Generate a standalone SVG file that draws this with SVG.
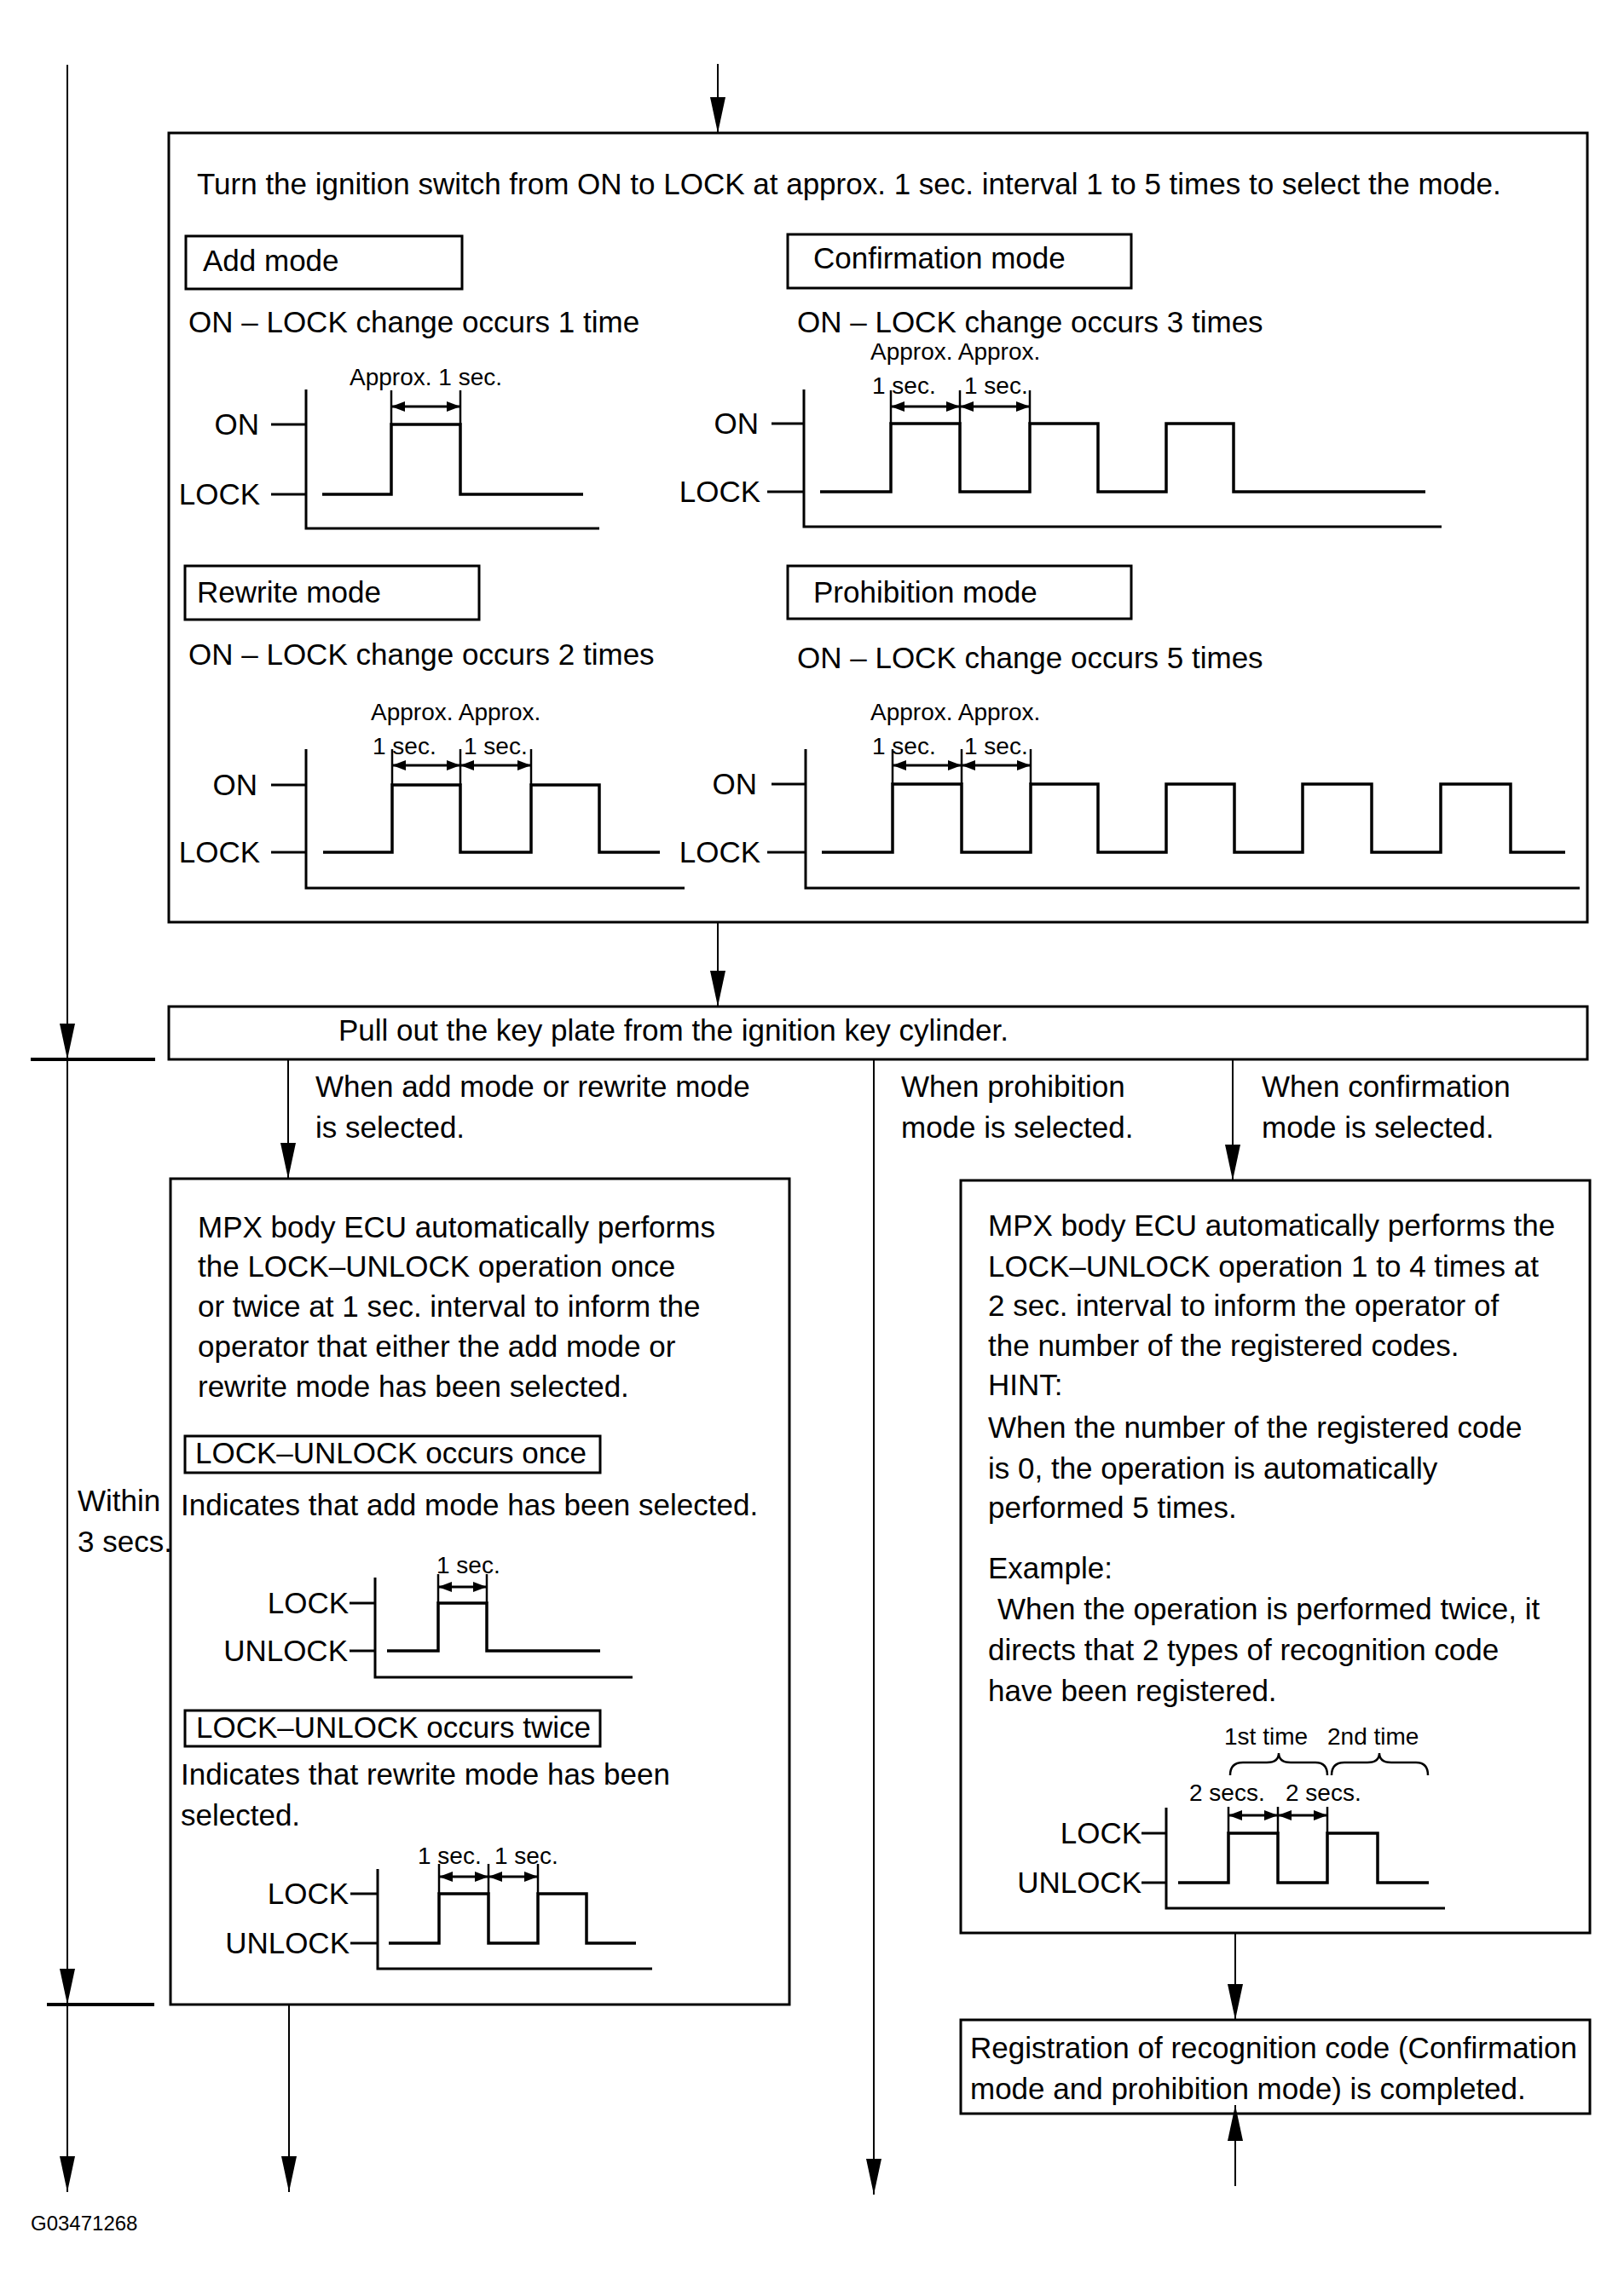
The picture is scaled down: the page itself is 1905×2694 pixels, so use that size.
<svg xmlns="http://www.w3.org/2000/svg" width="1905" height="2694" viewBox="0 0 1905 2694">
<defs>
<style>
text{font-family:"Liberation Sans",Arial,sans-serif;fill:#000}
.t{font-size:35px}
.s{font-size:28px}
.e{text-anchor:end}
.box{fill:none;stroke:#000;stroke-width:3}
.wave{fill:none;stroke:#000;stroke-width:3.5;stroke-linejoin:miter}
.axis{fill:none;stroke:#000;stroke-width:3}
.dimv{stroke:#000;stroke-width:2.5}
.dim{stroke:#000;stroke-width:3;marker-start:url(#dh);marker-end:url(#dh)}
.conn{stroke:#000;stroke-width:2;fill:none}
.tick{stroke:#000;stroke-width:4}
.brace{fill:none;stroke:#000;stroke-width:2.5}
</style>
<marker id="ah" viewBox="0 0 42 18" refX="42" refY="9" markerWidth="42" markerHeight="18" markerUnits="userSpaceOnUse" orient="auto"><path d="M0,0 L42,9 L0,18 z" fill="#000"/></marker>
<marker id="dh" viewBox="0 0 16 12" refX="16" refY="6" markerWidth="16" markerHeight="12" markerUnits="userSpaceOnUse" orient="auto-start-reverse"><path d="M0,0 L16,6 L0,12 z" fill="#000"/></marker>
</defs>
<rect x="0" y="0" width="1905" height="2694" fill="#fff"/>

<g id="connectors">
<line class="conn" x1="842" y1="75" x2="842" y2="156" marker-end="url(#ah)"/>
<line class="conn" x1="79" y1="76" x2="79" y2="1243" marker-end="url(#ah)"/>
<line class="conn" x1="79" y1="1243" x2="79" y2="2352" marker-end="url(#ah)"/>
<line class="conn" x1="79" y1="2352" x2="79" y2="2572" marker-end="url(#ah)"/>
<line class="tick" x1="36" y1="1243" x2="182" y2="1243"/>
<line class="tick" x1="55" y1="2352" x2="181" y2="2352"/>
<line class="conn" x1="842" y1="1082" x2="842" y2="1181" marker-end="url(#ah)"/>
<line class="conn" x1="338" y1="1243" x2="338" y2="1383" marker-end="url(#ah)"/>
<line class="conn" x1="1025" y1="1243" x2="1025" y2="2575" marker-end="url(#ah)"/>
<line class="conn" x1="1446" y1="1243" x2="1446" y2="1385" marker-end="url(#ah)"/>
<line class="conn" x1="339" y1="2352" x2="339" y2="2572" marker-end="url(#ah)"/>
<line class="conn" x1="1449" y1="2268" x2="1449" y2="2370" marker-end="url(#ah)"/>
<line class="conn" x1="1449" y1="2565" x2="1449" y2="2470" marker-end="url(#ah)"/>
<text class="t" x="370" y="1287">When add mode or rewrite mode</text>
<text class="t" x="370" y="1335">is selected.</text>
<text class="t" x="1057" y="1287">When prohibition</text>
<text class="t" x="1057" y="1335">mode is selected.</text>
<text class="t" x="1480" y="1287">When confirmation</text>
<text class="t" x="1480" y="1335">mode is selected.</text>
<text class="t" x="91" y="1773">Within</text>
<text class="t" x="91" y="1821">3 secs.</text>
</g>

<g id="mode-select">
<rect class="box" x="198" y="156" width="1664" height="926"/>
<text class="t" x="231" y="228">Turn the ignition switch from ON to LOCK at approx. 1 sec. interval 1 to 5 times to select the mode.</text>

<g id="add-mode">
<rect class="box" x="218" y="277" width="324" height="62"/>
<text class="t" x="238" y="318">Add mode</text>
<text class="t" x="221" y="390">ON – LOCK change occurs 1 time</text>
<text class="s" x="410" y="452">Approx. 1 sec.</text>
<text class="t e" x="304" y="510">ON</text>
<text class="t e" x="305" y="592">LOCK</text>
<line class="axis" x1="318" y1="498" x2="359" y2="498"/>
<line class="axis" x1="318" y1="580" x2="359" y2="580"/>
<path class="axis" d="M359,457 V620 H703"/>
<path class="wave" d="M378,580 H459 V498 H540 V580 H684"/>
<line class="dimv" x1="459" y1="458" x2="459" y2="498"/>
<line class="dimv" x1="540" y1="458" x2="540" y2="498"/>
<line class="dim" x1="459" y1="477" x2="540" y2="477"/>
</g>

<g id="confirmation-mode">
<rect class="box" x="924" y="275" width="403" height="63"/>
<text class="t" x="954" y="315">Confirmation mode</text>
<text class="t" x="935" y="390">ON – LOCK change occurs 3 times</text>
<text class="s" x="1021" y="422">Approx. Approx.</text>
<text class="s" x="1023" y="462">1 sec.</text>
<text class="s" x="1131" y="462">1 sec.</text>
<text class="t e" x="890" y="509">ON</text>
<text class="t e" x="892" y="589">LOCK</text>
<line class="axis" x1="905" y1="497" x2="943" y2="497"/>
<line class="axis" x1="900" y1="577" x2="943" y2="577"/>
<path class="axis" d="M943,457 V618 H1691"/>
<path class="wave" d="M962,577 H1045 V497 H1126 V577 H1208 V497 H1288 V577 H1368 V497 H1447 V577 H1672"/>
<line class="dimv" x1="1045" y1="458" x2="1045" y2="497"/>
<line class="dimv" x1="1126" y1="458" x2="1126" y2="497"/>
<line class="dimv" x1="1208" y1="458" x2="1208" y2="497"/>
<line class="dim" x1="1045" y1="477" x2="1126" y2="477"/>
<line class="dim" x1="1126" y1="477" x2="1208" y2="477"/>
</g>

<g id="rewrite-mode">
<rect class="box" x="217" y="664" width="345" height="63"/>
<text class="t" x="231" y="707">Rewrite mode</text>
<text class="t" x="221" y="780">ON – LOCK change occurs 2 times</text>
<text class="s" x="435" y="845">Approx. Approx.</text>
<text class="s" x="437" y="885">1 sec.</text>
<text class="s" x="544" y="885">1 sec.</text>
<text class="t e" x="302" y="933">ON</text>
<text class="t e" x="305" y="1012">LOCK</text>
<line class="axis" x1="318" y1="921" x2="359" y2="921"/>
<line class="axis" x1="318" y1="1000" x2="359" y2="1000"/>
<path class="axis" d="M359,879 V1042 H803"/>
<path class="wave" d="M379,1000 H460 V921 H540 V1000 H623 V921 H703 V1000 H774"/>
<line class="dimv" x1="460" y1="879" x2="460" y2="921"/>
<line class="dimv" x1="540" y1="879" x2="540" y2="921"/>
<line class="dimv" x1="623" y1="879" x2="623" y2="921"/>
<line class="dim" x1="460" y1="898" x2="540" y2="898"/>
<line class="dim" x1="540" y1="898" x2="623" y2="898"/>
</g>

<g id="prohibition-mode">
<rect class="box" x="924" y="664" width="403" height="62"/>
<text class="t" x="954" y="707">Prohibition mode</text>
<text class="t" x="935" y="784">ON – LOCK change occurs 5 times</text>
<text class="s" x="1021" y="845">Approx. Approx.</text>
<text class="s" x="1023" y="885">1 sec.</text>
<text class="s" x="1131" y="885">1 sec.</text>
<text class="t e" x="888" y="932">ON</text>
<text class="t e" x="892" y="1012">LOCK</text>
<line class="axis" x1="905" y1="920" x2="945" y2="920"/>
<line class="axis" x1="900" y1="1000" x2="945" y2="1000"/>
<path class="axis" d="M945,879 V1042 H1853"/>
<path class="wave" d="M964,1000 H1047 V920 H1128 V1000 H1209 V920 H1288 V1000 H1368 V920 H1448 V1000 H1528 V920 H1609 V1000 H1690 V920 H1772 V1000 H1836"/>
<line class="dimv" x1="1047" y1="879" x2="1047" y2="920"/>
<line class="dimv" x1="1128" y1="879" x2="1128" y2="920"/>
<line class="dimv" x1="1209" y1="879" x2="1209" y2="920"/>
<line class="dim" x1="1047" y1="898" x2="1128" y2="898"/>
<line class="dim" x1="1128" y1="898" x2="1209" y2="898"/>
</g>
</g>

<g id="pull-key">
<rect class="box" x="198" y="1181" width="1664" height="62"/>
<text class="t" x="397" y="1221">Pull out the key plate from the ignition key cylinder.</text>
</g>

<g id="add-rewrite-indication">
<rect class="box" x="200" y="1383" width="726" height="969"/>
<text class="t" x="232" y="1452">MPX body ECU automatically performs</text>
<text class="t" x="232" y="1498">the LOCK–UNLOCK operation once</text>
<text class="t" x="232" y="1545">or twice at 1 sec. interval to inform the</text>
<text class="t" x="232" y="1592">operator that either the add mode or</text>
<text class="t" x="232" y="1639">rewrite mode has been selected.</text>
<rect class="box" x="217" y="1685" width="487" height="43"/>
<text class="t" x="229" y="1717">LOCK–UNLOCK occurs once</text>
<text class="t" x="212" y="1778">Indicates that add mode has been selected.</text>
<text class="s" x="512" y="1846">1 sec.</text>
<text class="t e" x="409" y="1893">LOCK</text>
<text class="t e" x="408" y="1949">UNLOCK</text>
<line class="axis" x1="410" y1="1881" x2="440" y2="1881"/>
<line class="axis" x1="410" y1="1937" x2="440" y2="1937"/>
<path class="axis" d="M440,1851 V1968 H742"/>
<path class="wave" d="M454,1937 H514 V1881 H571 V1937 H704"/>
<line class="dimv" x1="514" y1="1847" x2="514" y2="1881"/>
<line class="dimv" x1="571" y1="1847" x2="571" y2="1881"/>
<line class="dim" x1="514" y1="1862" x2="571" y2="1862"/>
<rect class="box" x="217" y="2007" width="487" height="42"/>
<text class="t" x="230" y="2039">LOCK–UNLOCK occurs twice</text>
<text class="t" x="212" y="2094">Indicates that rewrite mode has been</text>
<text class="t" x="212" y="2142">selected.</text>
<text class="s" x="490" y="2187">1 sec.</text>
<text class="s" x="580" y="2187">1 sec.</text>
<text class="t e" x="409" y="2234">LOCK</text>
<text class="t e" x="410" y="2292">UNLOCK</text>
<line class="axis" x1="411" y1="2222" x2="443" y2="2222"/>
<line class="axis" x1="411" y1="2280" x2="443" y2="2280"/>
<path class="axis" d="M443,2193 V2310 H765"/>
<path class="wave" d="M456,2280 H515 V2222 H573 V2280 H631 V2222 H688 V2280 H746"/>
<line class="dimv" x1="515" y1="2187" x2="515" y2="2222"/>
<line class="dimv" x1="573" y1="2187" x2="573" y2="2222"/>
<line class="dimv" x1="631" y1="2187" x2="631" y2="2222"/>
<line class="dim" x1="515" y1="2202" x2="573" y2="2202"/>
<line class="dim" x1="573" y1="2202" x2="631" y2="2202"/>
</g>

<g id="confirmation-indication">
<rect class="box" x="1127" y="1385" width="738" height="883"/>
<text class="t" x="1159" y="1450">MPX body ECU automatically performs the</text>
<text class="t" x="1159" y="1498">LOCK–UNLOCK operation 1 to 4 times at</text>
<text class="t" x="1159" y="1544">2 sec. interval to inform the operator of</text>
<text class="t" x="1159" y="1591">the number of the registered codes.</text>
<text class="t" x="1159" y="1637">HINT:</text>
<text class="t" x="1159" y="1687">When the number of the registered code</text>
<text class="t" x="1159" y="1735">is 0, the operation is automatically</text>
<text class="t" x="1159" y="1781">performed 5 times.</text>
<text class="t" x="1159" y="1852">Example:</text>
<text class="t" x="1170" y="1900">When the operation is performed twice, it</text>
<text class="t" x="1159" y="1948">directs that 2 types of recognition code</text>
<text class="t" x="1159" y="1996">have been registered.</text>
<text class="s" x="1436" y="2047">1st time</text>
<text class="s" x="1557" y="2047">2nd time</text>
<path class="brace" d="M1443,2083 Q1443,2068 1458,2068 L1486,2068 Q1500,2068 1500,2057 Q1500,2068 1514,2068 L1543,2068 Q1557,2068 1557,2083"/>
<path class="brace" d="M1562,2083 Q1562,2068 1577,2068 L1604,2068 Q1618,2068 1618,2057 Q1618,2068 1632,2068 L1661,2068 Q1675,2068 1675,2083"/>
<text class="s" x="1395" y="2113">2 secs.</text>
<text class="s" x="1508" y="2113">2 secs.</text>
<text class="t e" x="1339" y="2163">LOCK</text>
<text class="t e" x="1339" y="2221">UNLOCK</text>
<line class="axis" x1="1339" y1="2151" x2="1368" y2="2151"/>
<line class="axis" x1="1339" y1="2209" x2="1368" y2="2209"/>
<path class="axis" d="M1368,2121 V2239 H1695"/>
<path class="wave" d="M1382,2209 H1441 V2151 H1499 V2209 H1557 V2151 H1616 V2209 H1676"/>
<line class="dimv" x1="1441" y1="2120" x2="1441" y2="2151"/>
<line class="dimv" x1="1499" y1="2120" x2="1499" y2="2151"/>
<line class="dimv" x1="1557" y1="2120" x2="1557" y2="2151"/>
<line class="dim" x1="1441" y1="2130" x2="1499" y2="2130"/>
<line class="dim" x1="1499" y1="2130" x2="1557" y2="2130"/>
</g>

<g id="registration-complete">
<rect class="box" x="1127" y="2370" width="738" height="110"/>
<text class="t" x="1138" y="2415">Registration of recognition code (Confirmation</text>
<text class="t" x="1138" y="2463">mode and prohibition mode) is completed.</text>
</g>

<text x="36" y="2617" style="font-size:24px">G03471268</text>
</svg>
